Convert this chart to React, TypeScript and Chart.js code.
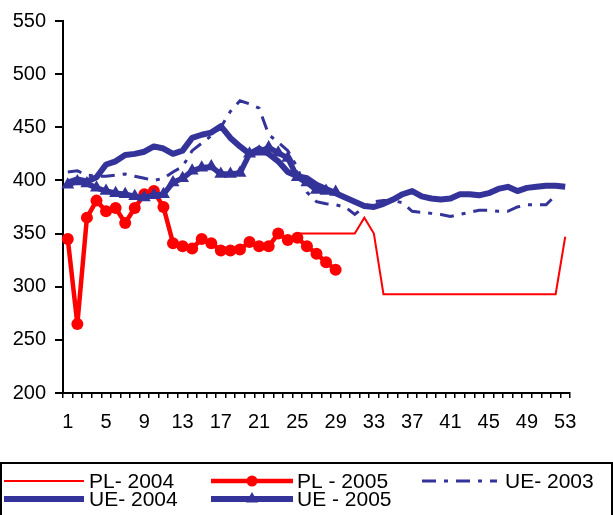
import React, { useEffect, useRef } from "react";
import { Chart, registerables } from "chart.js";

Chart.register(...registerables);

const weeks: string[] = [
  "1","2","3","4","5","6","7","8","9","10","11","12","13","14","15","16","17","18",
  "19","20","21","22","23","24","25","26","27","28","29","30","31","32","33","34","35",
  "36","37","38","39","40","41","42","43","44","45","46","47","48","49","50","51","52","53",
];

const yTicks = { min: 200, max: 550, step: 50 };

const pl2004: (number | null)[] = [
  null, null, null, null, null, null, null, null, null, null, null, null,
  null, null, null, null, null, null, null, null, null, null, null, null,
  350, 350, 350, 350, 350, 350, 350, 365, 350,
  293, 293, 293, 293, 293, 293, 293, 293, 293, 293,
  293, 293, 293, 293, 293, 293, 293, 293, 293,
  347,
];

const pl2005: (number | null)[] = [
  345, 265, 365, 381, 371, 374, 360, 374, 387, 390,
  375, 341, 338, 336, 345, 341, 334, 334, 335, 342,
  338, 338, 350, 344, 346, 338, 331, 323, 316,
];

const ue2003: (number | null)[] = [
  408, 409, 405, 404, 404, 405, 406, 404, 402, 400,
  402, 408, 413, 428, 435, 442, 450, 465, 475, 472,
  468, 443, 436, 428, 412, 389, 380, 378, 377, 375,
  368, 375, 380, 381, 381, 379, 371, 370, 369, 368,
  366, 368, 370, 372, 372, 371, 371, 375, 377, 377,
  377, 386, null,
];

const ue2004: (number | null)[] = [
  398, 401, 399, 403, 415, 418, 424, 425, 427, 432,
  430, 425, 428, 440, 443, 445, 451, 440, 432, 425,
  430, 425, 418, 408, 404, 402, 396, 392, 388, 384,
  380, 376, 375, 378, 382, 387, 390, 385, 383, 382,
  383, 387, 387, 386, 388, 392, 394, 390, 393, 394,
  395, 395, 394,
];

const ue2005: (number | null)[] = [
  396, 399, 397, 393, 390, 388, 387, 385, 384, 386,
  387, 398, 402, 409, 412, 413, 406, 406, 407, 425,
  427, 431, 426, 421, 403, 398, 391, 390, 389,
];

const RED = "#FF0000";
const BLUE = "#333399";
const FONT = '"Liberation Sans", Arial, sans-serif';

const legendPlugin = {
  id: "boxLegend",
  afterDraw(chart: any) {
    const ctx = chart.ctx as CanvasRenderingContext2D;
    ctx.save();
    ctx.strokeStyle = "#000";
    ctx.lineWidth = 2;
    ctx.setLineDash([]);
    ctx.strokeRect(1, 463, 611, 60);

    ctx.font = `21px ${FONT}`;
    ctx.fillStyle = "#000";
    ctx.textBaseline = "middle";
    ctx.textAlign = "left";

    const line = (x1: number, x2: number, y: number, color: string, w: number, dash: number[]) => {
      ctx.beginPath();
      ctx.strokeStyle = color;
      ctx.lineWidth = w;
      ctx.setLineDash(dash);
      ctx.lineCap = "butt";
      ctx.moveTo(x1, y);
      ctx.lineTo(x2, y);
      ctx.stroke();
      ctx.setLineDash([]);
    };

    const r1 = 481;
    const r2 = 499;
    line(4, 84, r1, RED, 2, []);
    ctx.fillText("PL- 2004", 89, r1 + 1);

    line(211, 293, r1, RED, 4.5, []);
    ctx.beginPath();
    ctx.fillStyle = RED;
    ctx.arc(252, r1, 5.5, 0, Math.PI * 2);
    ctx.fill();
    ctx.fillStyle = "#000";
    ctx.fillText("PL - 2005", 297, r1 + 1);

    line(422, 497, r1, BLUE, 3, [14, 8, 4, 8]);
    ctx.fillText("UE- 2003", 505, r1 + 1);

    line(4, 84, r2, BLUE, 6, []);
    ctx.fillText("UE- 2004", 89, r2 + 1);

    line(211, 293, r2, BLUE, 6, []);
    ctx.beginPath();
    ctx.fillStyle = BLUE;
    const tr = 7;
    ctx.moveTo(252, r2 - tr);
    ctx.lineTo(252 + tr * 0.866, r2 + tr * 0.5);
    ctx.lineTo(252 - tr * 0.866, r2 + tr * 0.5);
    ctx.closePath();
    ctx.fill();
    ctx.fillStyle = "#000";
    ctx.fillText("UE - 2005", 297, r2 + 1);
    ctx.restore();
  },
};

export default function App() {
  const ref = useRef<HTMLCanvasElement | null>(null);

  useEffect(() => {
    document.body.style.margin = "0";
    const canvas = ref.current;
    if (!canvas) return;
    const chart = new Chart(canvas, {
      type: "line",
      data: {
        labels: weeks,
        datasets: [
          {
            label: "PL- 2004",
            data: pl2004,
            borderColor: RED,
            backgroundColor: RED,
            borderWidth: 2,
            pointRadius: 0,
            tension: 0,
            spanGaps: false,
            order: 5,
          },
          {
            label: "PL - 2005",
            data: pl2005,
            borderColor: RED,
            backgroundColor: RED,
            borderWidth: 4.5,
            borderJoinStyle: "round",
            pointRadius: 6,
            pointStyle: "circle",
            pointBorderWidth: 0,
            tension: 0,
            order: 4,
          },
          {
            label: "UE- 2003",
            data: ue2003,
            borderColor: BLUE,
            backgroundColor: BLUE,
            borderWidth: 3,
            borderDash: [14, 8, 4, 8],
            pointRadius: 0,
            tension: 0,
            order: 3,
          },
          {
            label: "UE- 2004",
            data: ue2004,
            borderColor: BLUE,
            backgroundColor: BLUE,
            borderWidth: 6,
            borderJoinStyle: "round",
            pointRadius: 0,
            tension: 0,
            order: 2,
          },
          {
            label: "UE - 2005",
            data: ue2005,
            borderColor: BLUE,
            backgroundColor: BLUE,
            borderWidth: 5.5,
            borderJoinStyle: "round",
            pointRadius: 7.5,
            pointStyle: "triangle",
            pointBorderWidth: 0,
            tension: 0,
            order: 1,
          },
        ],
      },
      options: {
        responsive: false,
        animation: false,
        devicePixelRatio: 1,
        layout: { padding: { top: 21, left: 0, right: 43, bottom: 82 } },
        plugins: {
          legend: { display: false },
          tooltip: { enabled: false },
        },
        scales: {
          x: {
            type: "category",
            offset: true,
            grid: {
              display: true,
              drawOnChartArea: false,
              drawTicks: true,
              tickLength: 5,
              color: "#000",
              lineWidth: 1.5,
              offset: true,
            },
            border: { display: true, color: "#000", width: 2 },
            ticks: {
              autoSkip: false,
              maxRotation: 0,
              minRotation: 0,
              padding: 12,
              color: "#000",
              font: { family: FONT, size: 20 },
              callback: (_v: any, idx: number) => (idx % 4 === 0 ? weeks[idx] : ""),
            },
            afterFit: (s: any) => {
              s.height = 40;
            },
          },
          y: {
            min: yTicks.min,
            max: yTicks.max,
            grid: {
              display: true,
              drawOnChartArea: false,
              drawTicks: true,
              tickLength: 8,
              color: "#000",
              lineWidth: 2,
            },
            border: { display: true, color: "#000", width: 2 },
            ticks: {
              stepSize: yTicks.step,
              padding: 9,
              color: "#000",
              font: { family: FONT, size: 20 },
            },
            afterFit: (s: any) => {
              s.width = 63;
            },
          },
        },
      },
      plugins: [legendPlugin],
    });
    return () => chart.destroy();
  }, []);

  return (
    <div style={{ width: 613, height: 515, position: "relative" }}>
      <canvas ref={ref} width={613} height={515} style={{ display: "block" }} />
    </div>
  );
}
